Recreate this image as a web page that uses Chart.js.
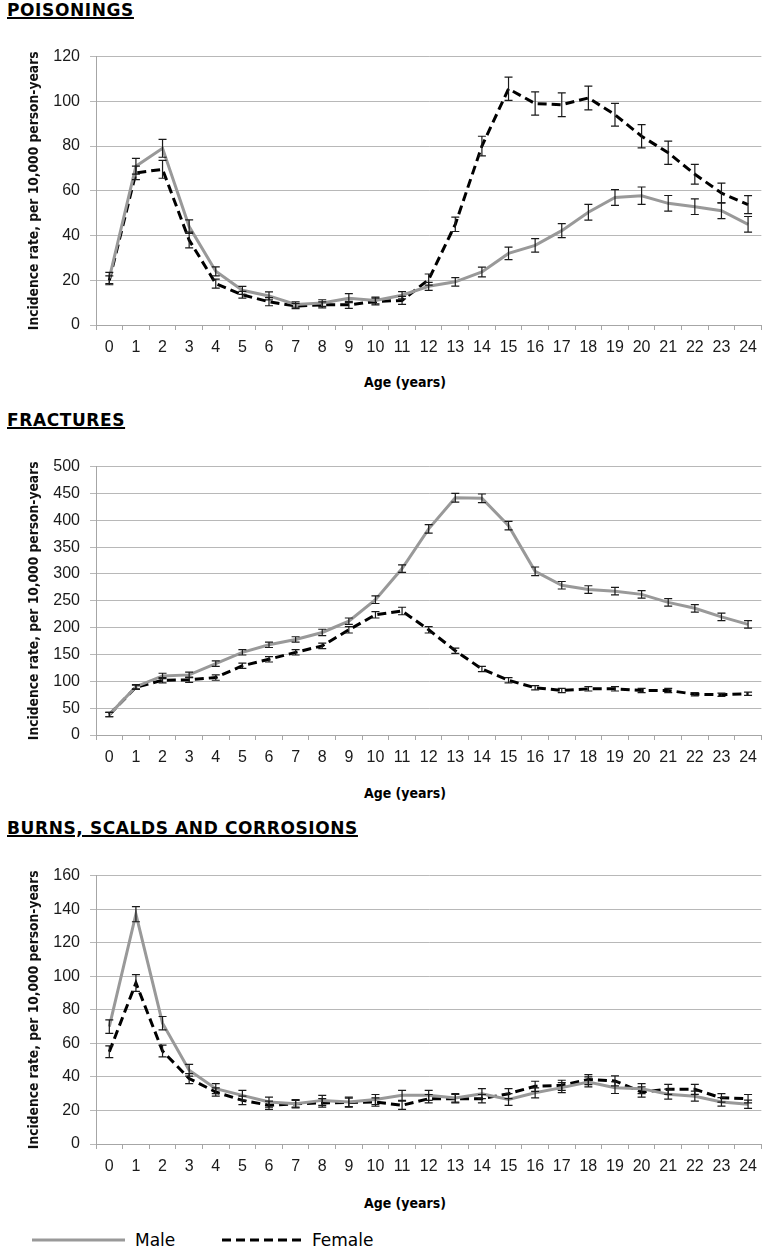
<!DOCTYPE html>
<html>
<head>
<script src="https://cdn.jsdelivr.net/npm/chart.js@4.4.0/dist/chart.umd.min.js"></script>
<style>
    body { margin:0; background:#fff; width:765px; height:1249px; position:relative; overflow:hidden; }
    .sect { position:absolute; left:7px; font-family:'DejaVu Sans'; font-weight:bold; font-size:17px; letter-spacing:0.6px; line-height:20px; text-decoration:underline; text-decoration-thickness:2px; }
    .box { position:absolute; left:0; width:765px; height:323px; }
    .xt { position:absolute; left:325px; width:160px; text-align:center; font-family:'DejaVu Sans Condensed'; font-weight:bold; font-size:14px; line-height:16px; }
    .leg { position:absolute; top:1230px; font-family:'DejaVu Sans'; font-size:17px; line-height:20px; }
</style>
</head>
<body>

<div class="sect" style="top:0px">POISONINGS</div>
<div class="box" style="top:37px"><canvas id="poisonChart"></canvas></div>
<div class="xt" style="top:374px">Age (years)</div>

<div class="sect" style="top:410px">FRACTURES</div>
<div class="box" style="top:447px"><canvas id="fractureChart"></canvas></div>
<div class="xt" style="top:785px">Age (years)</div>

<div class="sect" style="top:818px">BURNS, SCALDS AND CORROSIONS</div>
<div class="box" style="top:856px"><canvas id="burnChart"></canvas></div>
<div class="xt" style="top:1195px">Age (years)</div>

<svg width="765" height="20" style="position:absolute;left:0;top:1230px">
    <line x1="32" y1="10" x2="125" y2="10" stroke="#999999" stroke-width="3"/>
    <line x1="222" y1="10" x2="303" y2="10" stroke="#000" stroke-width="3" stroke-dasharray="9 5"/>
</svg>
<div class="leg" style="left:135px">Male</div>
<div class="leg" style="left:312px">Female</div>

<script>
    // ages on the x axis
    const ages = ['0','1','2','3','4','5','6','7','8','9','10','11','12','13','14','15','16','17','18','19','20','21','22','23','24'];

    // poisonings
    const poisonMale = [21, 71, 79, 44, 24, 15.5, 13, 9.2, 9.8, 12, 11, 13.3, 17.3, 19.3, 23.7, 32, 35.6, 42.2, 50.4, 57, 57.8, 54.4, 52.9, 51.1, 45];
    const poisonMaleErr = [2.5, 3.5, 4, 3, 2, 1.8, 1.8, 1.2, 1.5, 2, 1.5, 1.6, 1.8, 1.9, 2.2, 2.8, 3, 3.1, 3.5, 3.5, 3.9, 3.5, 3.5, 3.5, 3.5];
    const poisonFemale = [20, 68, 69.6, 38, 18.5, 13.5, 10.4, 8.5, 9, 9, 10.5, 11, 20.3, 45, 80, 105.6, 99, 98.5, 101.5, 94, 84.4, 77, 67.4, 59, 53.8];
    const poisonFemaleErr = [2, 3, 4, 3.5, 2, 1.5, 1.8, 1.2, 1.3, 1.6, 1.5, 1.8, 2.5, 3.2, 4.4, 5.2, 5.2, 5.3, 5.3, 5.1, 5.2, 5.2, 4.4, 4.4, 4];

    // fractures
    const fractureMale = [38, 90, 110, 112, 133, 154, 168, 178, 191, 212, 252, 310, 384, 442, 441, 390, 305, 279, 271, 268, 262, 247, 236, 220, 206];
    const fractureMaleErr = [4, 4, 5, 5, 5, 5, 5, 5, 6, 6, 7, 7, 8, 8, 8, 8, 8, 7, 7, 7, 7, 7, 7, 7, 7];
    const fractureFemale = [38, 89, 102, 103, 107, 129, 141, 154, 166, 196, 224, 231, 196, 157, 123, 102, 88, 83, 86, 86, 83, 83, 76, 75, 77];
    const fractureFemaleErr = [4, 4, 5, 5, 5, 5, 5, 5, 5, 6, 6, 7, 6, 5, 5, 5, 4, 4, 4, 4, 4, 4, 3, 3, 3];

    // burns, scalds and corrosions
    const burnMale = [70, 137, 72, 44, 33, 29, 25, 24, 26, 25, 26.5, 29, 29, 27.5, 30, 26.5, 30.5, 33.6, 37, 33.6, 33, 29.7, 28.5, 25.1, 23.7];
    const burnMaleErr = [4, 4.5, 4, 3.5, 3, 3, 3, 2.5, 3, 3, 3, 3, 3, 2.5, 3, 3.5, 3, 3, 3, 3.5, 3, 3, 3, 2.5, 2.5];
    const burnFemale = [55, 96, 55.4, 39, 31, 26, 23.1, 24, 24.5, 24.8, 25, 23.1, 27, 27, 27, 30, 34.4, 35, 38.4, 37.6, 31, 32.6, 32.6, 27.5, 27];
    const burnFemaleErr = [3.5, 5, 3.5, 3, 2.5, 2.5, 2.5, 2, 2.5, 2.5, 2.5, 2.5, 2.5, 2.5, 2.5, 3, 3, 3, 3, 3, 3, 3, 3, 2.5, 2.5];

    //draws the +/- error bars using the chart's own scales
    const errorBars = {
        id: 'errorBars',
        afterDatasetsDraw(chart) {
            const ctx = chart.ctx;
            const xs = chart.scales.x, ys = chart.scales.y;
            chart.data.datasets.forEach(ds => {
                if (!ds.errors) return;
                ctx.save();
                ctx.strokeStyle = '#1a1a1a';
                ctx.lineWidth = 1.2;
                ds.data.forEach((v, i) => {
                    const px = xs.getPixelForValue(i);
                    const top = ys.getPixelForValue(v + ds.errors[i]);
                    const bot = ys.getPixelForValue(v - ds.errors[i]);
                    ctx.beginPath();
                    ctx.moveTo(px, top); ctx.lineTo(px, bot);
                    ctx.moveTo(px - 4, top); ctx.lineTo(px + 4, top);
                    ctx.moveTo(px - 4, bot); ctx.lineTo(px + 4, bot);
                    ctx.stroke();
                });
                ctx.restore();
            });
        }
    };

    function makeChart(id, male, maleErr, female, femaleErr, maxY, step) {
        return new Chart(document.getElementById(id), {
            type: 'line',
            data: {
                labels: ages,
                datasets: [{
                    label: 'Male',
                    data: male,
                    errors: maleErr,
                    borderColor: '#999999',
                    borderWidth: 3,
                    pointRadius: 0,
                    tension: 0
                }, {
                    label: 'Female',
                    data: female,
                    errors: femaleErr,
                    borderColor: '#000000',
                    borderWidth: 3,
                    borderDash: [9, 5],
                    pointRadius: 0,
                    tension: 0
                }]
            },
            options: {
                responsive: true,
                maintainAspectRatio: false,
                animation: false,
                layout: { padding: { top: 10, right: 2, left: 0, bottom: 0 } },
                plugins: {
                    legend: { display: false },
                    tooltip: { enabled: false }
                },
                scales: {
                    x: {
                        offset: true,
                        grid: { offset: true, drawOnChartArea: false, tickLength: 5, color: '#a6a6a6' },
                        border: { color: '#a6a6a6' },
                        ticks: { padding: 8, color: '#1a1a1a', font: { family: 'Liberation Sans', size: 16 }, autoSkip: false, maxRotation: 0 },
                        afterFit: s => { s.height = 35; }
                    },
                    y: {
                        min: 0,
                        max: maxY,
                        ticks: { stepSize: step, padding: 10, color: '#1a1a1a', font: { family: 'Liberation Sans', size: 16 } },
                        grid: { color: '#b8b8b8', tickLength: 6 },
                        border: { color: '#a6a6a6' },
                        title: {
                            display: true,
                            text: 'Incidence rate, per 10,000 person-years',
                            color: '#111',
                            font: { family: 'DejaVu Sans Condensed', weight: 'bold', size: 13.7 },
                            padding: { top: 26, bottom: 0 }
                        },
                        afterFit: s => { s.width = 96; }
                    }
                }
            },
            plugins: [errorBars]
        });
    }

    makeChart('poisonChart', poisonMale, poisonMaleErr, poisonFemale, poisonFemaleErr, 120, 20);
    makeChart('fractureChart', fractureMale, fractureMaleErr, fractureFemale, fractureFemaleErr, 500, 50);
    makeChart('burnChart', burnMale, burnMaleErr, burnFemale, burnFemaleErr, 160, 20);
</script>
</body>
</html>
